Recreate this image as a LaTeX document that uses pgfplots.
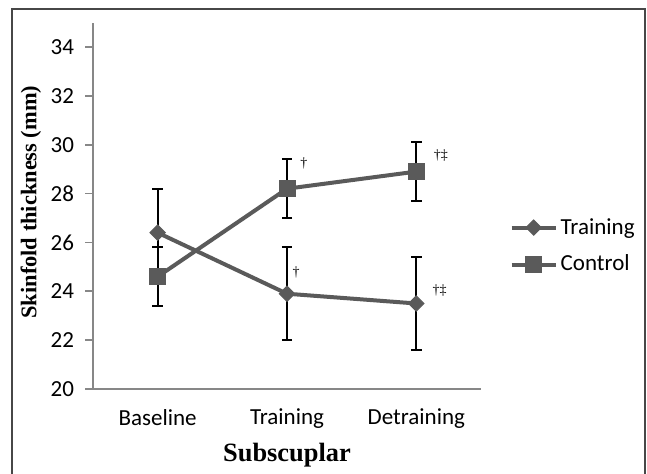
\documentclass[border=0pt]{standalone}
\usepackage{pgfplots}
\pgfplotsset{compat=1.18}
\usepackage{fontspec}
\setmainfont{Carlito}
\newfontfamily\timesf{Liberation Serif}
\definecolor{serc}{HTML}{5A5A5A}
\definecolor{axc}{HTML}{878787}
\definecolor{framec}{HTML}{474747}
\begin{document}
\begin{tikzpicture}
\useasboundingbox (0,0) rectangle (323.5pt,237pt);
\draw[framec, line width=1pt] (5.8pt,-2pt) -- (5.8pt,232.3pt) -- (322.5pt,232.3pt) -- (322.5pt,-2pt);
\begin{axis}[
  at={(46.5pt,42.5pt)}, anchor=south west,
  scale only axis, width=194pt, height=183.2pt,
  xmin=-0.5, xmax=2.5, ymin=20, ymax=35,
  axis x line*=bottom, axis y line*=left,
  axis line style={axc, line width=0.8pt, -},
  xtick={0,1,2}, xticklabels={Baseline,Training,Detraining},
  minor xtick={-0.5,0.5,1.5,2.5},
  ytick={20,22,...,34},
  tick align=outside,
  major tick length=4pt, minor tick length=3.5pt,
  tick style={axc, line width=0.8pt},
  xtick style={draw=none},
  minor tick style={axc, line width=0.8pt},
  /pgf/number format/assume math mode=true,
  ticklabel style={font=\fontsize{11.5}{13}\selectfont, text=black},
  xticklabel style={yshift=-2.5pt},
  yticklabel style={xshift=-2pt},
  xlabel={\timesf\bfseries Subscuplar},
  xlabel style={at={(axis description cs:0.5,-0.18)}, anchor=center, font=\fontsize{13.2}{15}\selectfont},
  ylabel={\timesf\bfseries Skinfold thickness (mm)},
  ylabel style={at={(axis description cs:-0.16,0.51)}, anchor=center, rotate=0, font=\fontsize{11.2}{12}\selectfont},
  legend style={at={(axis description cs:1.073,0.39)}, anchor=west, draw=none, fill=none,
    font=\fontsize{11.5}{13}\selectfont, row sep=7pt, inner sep=0pt,
    nodes={inner xsep=1.5pt, inner ysep=1pt}},
  legend cell align=left,
  legend image code/.code={
    \draw[#1, mark repeat=2, mark phase=2] plot coordinates {(0pt,0pt) (11pt,0pt) (22pt,0pt)};
  },
  clip=false,
]
% error bars first
\addplot[forget plot, draw=none, mark=none,
  error bars/.cd, y dir=both, y explicit,
  error bar style={black, draw=black, line width=0.9pt},
  error mark options={black, draw=black, rotate=90, mark size=2.6pt, line width=0.9pt}]
  coordinates {(0,26.4) +- (0,1.8) (1,23.9) +- (0,1.9) (2,23.5) +- (0,1.9)};
\addplot[forget plot, draw=none, mark=none,
  error bars/.cd, y dir=both, y explicit,
  error bar style={black, draw=black, line width=0.9pt},
  error mark options={black, draw=black, rotate=90, mark size=2.6pt, line width=0.9pt}]
  coordinates {(0,24.6) +- (0,1.2) (1,28.2) +- (0,1.2) (2,28.9) +- (0,1.2)};
% series
\addplot[serc, line width=2pt, mark=square*, mark size=2.7pt,
  mark options={serc, fill=serc, rotate=45, line width=0.5pt}]
  coordinates {(0,26.4) (1,23.9) (2,23.5)};
\addlegendentry{Training}
\addplot[serc, line width=2pt, mark=square*, mark size=4pt,
  mark options={serc, fill=serc, line width=0.5pt}]
  coordinates {(0,24.6) (1,28.2) (2,28.9)};
\addlegendentry{Control}
% significance marks
\node[font=\fontsize{7}{7}\selectfont\timesf] at (axis cs:1.13,29.22) {†};
\node[font=\fontsize{7}{7}\selectfont\timesf] at (axis cs:2.19,29.56) {†‡};
\node[font=\fontsize{7}{7}\selectfont\timesf] at (axis cs:1.07,24.79) {†};
\node[font=\fontsize{7}{7}\selectfont\timesf] at (axis cs:2.18,24.04) {†‡};
\end{axis}
\end{tikzpicture}
\end{document}
